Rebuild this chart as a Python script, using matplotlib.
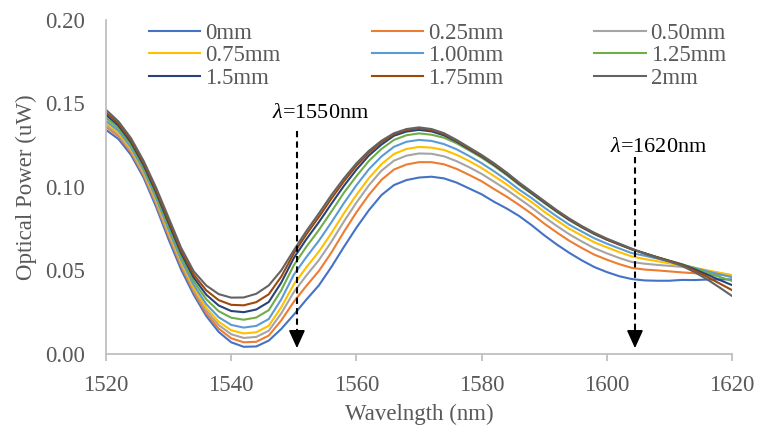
import matplotlib
matplotlib.use('Agg')
import matplotlib.pyplot as plt

plt.rcParams['font.family'] = ['Liberation Serif', 'DejaVu Serif']
plt.rcParams['mathtext.fontset'] = 'custom'
plt.rcParams['mathtext.it'] = 'Liberation Serif:italic'
plt.rcParams['mathtext.rm'] = 'Liberation Serif'

# wavelength samples (nm)
wavelength = [1520, 1522, 1524, 1526, 1528, 1530, 1532, 1534, 1536, 1538,
              1540, 1542, 1544, 1546, 1548, 1550, 1552, 1554, 1556, 1558,
              1560, 1562, 1564, 1566, 1568, 1570, 1572, 1574, 1576, 1578,
              1580, 1582, 1584, 1586, 1588, 1590, 1592, 1594, 1596, 1598,
              1600, 1602, 1604, 1606, 1608, 1610, 1612, 1614, 1616, 1618, 1620]

# optical power (uW) for each bending displacement
p_0mm = [0.1340, 0.1285, 0.1190, 0.1055, 0.0880, 0.0685, 0.0505, 0.0355, 0.0228, 0.0132,
         0.0070, 0.0043, 0.0045, 0.0080, 0.0150, 0.0235, 0.0325, 0.0410, 0.0520, 0.0640,
         0.0755, 0.0860, 0.0950, 0.1010, 0.1040, 0.1055, 0.1060, 0.1050, 0.1025, 0.0990,
         0.0955, 0.0910, 0.0870, 0.0825, 0.0770, 0.0710, 0.0655, 0.0605, 0.0560, 0.0520,
         0.0490, 0.0465, 0.0448, 0.0440, 0.0438, 0.0438, 0.0443, 0.0442, 0.0445, 0.0446, 0.0446]
p_025mm = [0.1358, 0.1302, 0.1205, 0.1070, 0.0897, 0.0705, 0.0525, 0.0372, 0.0244, 0.0152,
           0.0094, 0.0070, 0.0073, 0.0110, 0.0201, 0.0312, 0.0407, 0.0496, 0.0606, 0.0730,
           0.0847, 0.0952, 0.1041, 0.1103, 0.1133, 0.1147, 0.1147, 0.1134, 0.1107, 0.1071,
           0.1033, 0.0986, 0.0941, 0.0891, 0.0838, 0.0780, 0.0727, 0.0677, 0.0634, 0.0594,
           0.0564, 0.0537, 0.0515, 0.0505, 0.0500, 0.0494, 0.0488, 0.0483, 0.0478, 0.0474, 0.0468]
p_050mm = [0.1370, 0.1313, 0.1215, 0.1080, 0.0909, 0.0718, 0.0538, 0.0385, 0.0261, 0.0173,
           0.0118, 0.0096, 0.0102, 0.0139, 0.0243, 0.0370, 0.0469, 0.0561, 0.0671, 0.0792,
           0.0905, 0.1009, 0.1096, 0.1156, 0.1186, 0.1199, 0.1197, 0.1182, 0.1153, 0.1117,
           0.1077, 0.1030, 0.0982, 0.0929, 0.0876, 0.0819, 0.0766, 0.0716, 0.0673, 0.0633,
           0.0602, 0.0574, 0.0550, 0.0540, 0.0533, 0.0527, 0.0521, 0.0509, 0.0496, 0.0483, 0.0470]
p_075mm = [0.1382, 0.1323, 0.1225, 0.1090, 0.0920, 0.0731, 0.0551, 0.0398, 0.0277, 0.0193,
           0.0142, 0.0123, 0.0130, 0.0169, 0.0280, 0.0416, 0.0518, 0.0612, 0.0722, 0.0841,
           0.0951, 0.1052, 0.1135, 0.1196, 0.1226, 0.1238, 0.1234, 0.1220, 0.1191, 0.1154,
           0.1112, 0.1064, 0.1014, 0.0959, 0.0908, 0.0851, 0.0799, 0.0749, 0.0708, 0.0668,
           0.0638, 0.0609, 0.0583, 0.0568, 0.0555, 0.0542, 0.0530, 0.0516, 0.0501, 0.0486, 0.0472]
p_100mm = [0.1394, 0.1335, 0.1235, 0.1100, 0.0932, 0.0744, 0.0564, 0.0414, 0.0299, 0.0220,
           0.0174, 0.0158, 0.0168, 0.0209, 0.0327, 0.0474, 0.0579, 0.0677, 0.0787, 0.0902,
           0.1009, 0.1105, 0.1181, 0.1239, 0.1269, 0.1280, 0.1274, 0.1255, 0.1224, 0.1184,
           0.1141, 0.1092, 0.1040, 0.0983, 0.0932, 0.0876, 0.0823, 0.0773, 0.0732, 0.0692,
           0.0660, 0.0631, 0.0603, 0.0588, 0.0571, 0.0553, 0.0535, 0.0515, 0.0495, 0.0477, 0.0459]
p_125mm = [0.1412, 0.1350, 0.1250, 0.1115, 0.0949, 0.0763, 0.0583, 0.0435, 0.0328, 0.0256,
           0.0217, 0.0205, 0.0218, 0.0262, 0.0381, 0.0531, 0.0641, 0.0741, 0.0851, 0.0964,
           0.1063, 0.1155, 0.1226, 0.1280, 0.1308, 0.1319, 0.1311, 0.1293, 0.1260, 0.1218,
           0.1174, 0.1124, 0.1070, 0.1011, 0.0958, 0.0903, 0.0850, 0.0800, 0.0757, 0.0717,
           0.0684, 0.0654, 0.0625, 0.0603, 0.0580, 0.0558, 0.0537, 0.0512, 0.0486, 0.0461, 0.0437]
p_150mm = [0.1430, 0.1365, 0.1265, 0.1130, 0.0966, 0.0783, 0.0603, 0.0457, 0.0355, 0.0290,
           0.0257, 0.0250, 0.0266, 0.0311, 0.0427, 0.0574, 0.0686, 0.0788, 0.0898, 0.1005,
           0.1102, 0.1187, 0.1252, 0.1305, 0.1330, 0.1340, 0.1331, 0.1307, 0.1270, 0.1225,
           0.1181, 0.1131, 0.1076, 0.1017, 0.0962, 0.0907, 0.0853, 0.0803, 0.0759, 0.0719,
           0.0684, 0.0655, 0.0626, 0.0603, 0.0579, 0.0557, 0.0535, 0.0507, 0.0475, 0.0443, 0.0412]
p_175mm = [0.1444, 0.1377, 0.1277, 0.1142, 0.0980, 0.0798, 0.0618, 0.0475, 0.0381, 0.0322,
           0.0294, 0.0291, 0.0310, 0.0357, 0.0463, 0.0601, 0.0715, 0.0819, 0.0929, 0.1032,
           0.1125, 0.1204, 0.1267, 0.1314, 0.1339, 0.1349, 0.1339, 0.1315, 0.1275, 0.1230,
           0.1185, 0.1135, 0.1081, 0.1021, 0.0966, 0.0911, 0.0856, 0.0806, 0.0761, 0.0721,
           0.0686, 0.0656, 0.0627, 0.0602, 0.0578, 0.0556, 0.0532, 0.0500, 0.0462, 0.0422, 0.0382]
p_200mm = [0.1460, 0.1390, 0.1290, 0.1155, 0.0995, 0.0815, 0.0635, 0.0495, 0.0410, 0.0358,
           0.0337, 0.0338, 0.0360, 0.0410, 0.0500, 0.0620, 0.0735, 0.0840, 0.0950, 0.1050,
           0.1140, 0.1215, 0.1275, 0.1320, 0.1345, 0.1355, 0.1345, 0.1320, 0.1280, 0.1235,
           0.1190, 0.1140, 0.1085, 0.1025, 0.0970, 0.0915, 0.0860, 0.0810, 0.0765, 0.0725,
           0.0690, 0.0660, 0.0630, 0.0600, 0.0575, 0.0553, 0.0527, 0.0490, 0.0447, 0.0398, 0.0347]

labels = ['0mm', '0.25mm', '0.50mm', '0.75mm', '1.00mm', '1.25mm', '1.5mm', '1.75mm', '2mm']
series = [p_0mm, p_025mm, p_050mm, p_075mm, p_100mm, p_125mm, p_150mm, p_175mm, p_200mm]
colors = ['#4472C4', '#ED7D31', '#A5A5A5', '#FFC000', '#5B9BD5',
          '#70AD47', '#264478', '#9E480E', '#636363']

# marked wavelengths: arrow x position and its label
markers_x = [1550.5, 1604.5]
markers_text = ['1550nm', '1620nm']

FS = 16.5

fig = plt.figure(figsize=(7.58, 4.34), dpi=100)
ax = fig.add_axes([106 / 758, 1 - 354 / 434, 626 / 758, 334.5 / 434])

lines = []
for vals, lab, col in zip(series, labels, colors):
    ln, = ax.plot(wavelength, vals, color=col, lw=1.5, label=lab)
    lines.append(ln)

ax.set_xlim(1520, 1620)
ax.set_ylim(0, 0.20)
ax.set_xticks([1520, 1540, 1560, 1580, 1600, 1620])
ax.set_yticks([0.0, 0.05, 0.10, 0.15, 0.20])
ax.yaxis.set_major_formatter(plt.FuncFormatter(lambda v, p: f'{v:.2f}'))

for side in ['top', 'right']:
    ax.spines[side].set_visible(False)
for side in ['left', 'bottom']:
    ax.spines[side].set_color('#BFBFBF')
    ax.spines[side].set_linewidth(1.3)

ax.tick_params(axis='x', colors='#BFBFBF', length=5, width=1.3, pad=10,
               labelsize=FS, labelcolor='#595959')
ax.tick_params(axis='y', length=0, pad=15, labelsize=FS, labelcolor='#595959')

ax.set_xlabel('Wavelngth (nm)', fontsize=FS, color='#595959', labelpad=6)
ax.set_ylabel('Optical Power (uW)', fontsize=FS, color='#595959', labelpad=6)

# dashed arrows marking the two wavelengths
arrow_top = [0.1335, 0.1180]
text_x = [1554.3, 1608.3]
text_y = [0.141, 0.1205]
for x, top, tx, ty, txt in zip(markers_x, arrow_top, text_x, text_y, markers_text):
    ax.plot([x, x], [top, 0.012], color='black', lw=1.5, ls=(0, (3, 2)))
    ax.annotate('', xy=(x, 0.0035), xytext=(x, 0.014),
                arrowprops=dict(arrowstyle='-|>,head_length=1.1,head_width=0.5',
                                color='black', lw=1.2, shrinkA=0, shrinkB=0))
    ax.text(tx, ty, r'$\lambda$=' + txt, fontsize=16, color='black',
            ha='center', va='baseline')

# legend laid out row by row in three columns
order = [0, 3, 6, 1, 4, 7, 2, 5, 8]
leg = ax.legend([lines[i] for i in order], [labels[i] for i in order],
                ncol=3, loc='upper left', bbox_to_anchor=(149 / 758, 1 - 23 / 434),
                bbox_transform=fig.transFigure, frameon=False, fontsize=FS,
                handlelength=2.23, handletextpad=0.22, columnspacing=3.98,
                labelspacing=0.06, borderpad=0, borderaxespad=0)
for t in leg.get_texts():
    t.set_color('#595959')

fig.savefig('out.png', dpi=100)
